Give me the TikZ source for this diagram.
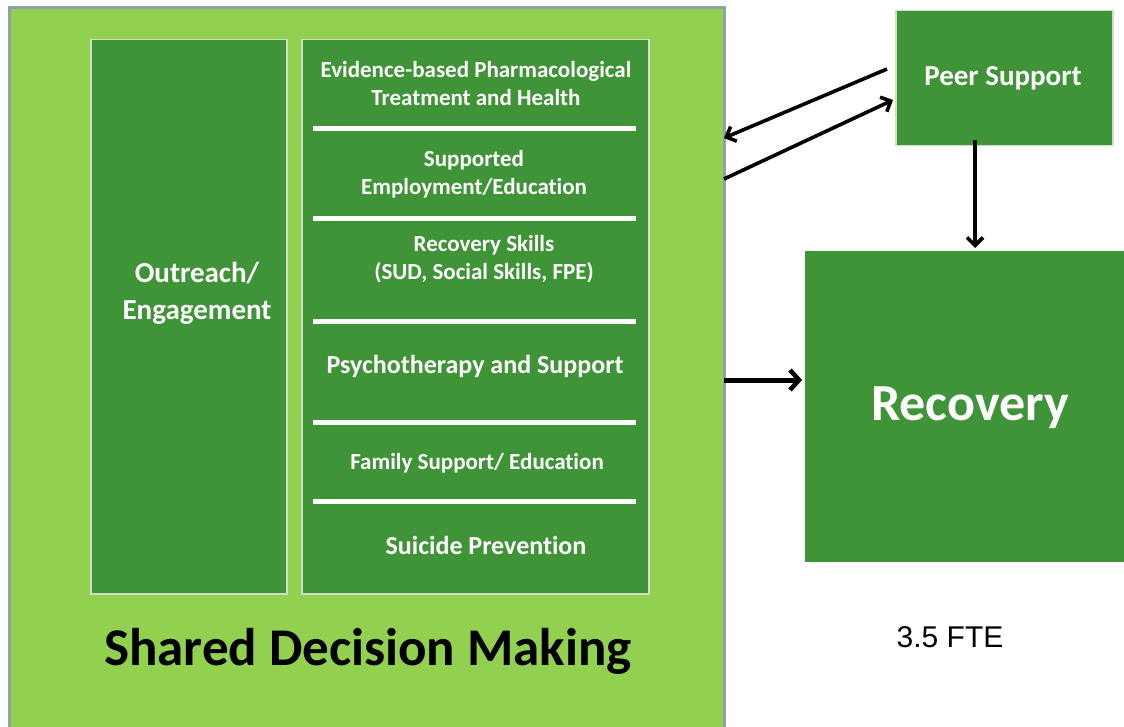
\documentclass[tikz,border=0pt]{standalone}
\usepackage{fontspec}
\setmainfont{Carlito}[Ligatures=NoCommon]
\newfontfamily\arialfont{Liberation Sans}
\usetikzlibrary{arrows.meta}
\definecolor{lightg}{HTML}{92D050}
\definecolor{darkg}{HTML}{3F9437}
\definecolor{bigborder}{HTML}{8CA3AC}
\definecolor{innerborder}{HTML}{D2DEC4}
\tikzset{
  bigbox/.style={draw=bigborder, line width=3pt, fill=lightg},
  greenbox/.style={draw=innerborder, line width=1.5pt, fill=darkg},
  plainbox/.style={fill=darkg, draw=none},
  wtext/.style={text=white, font=\bfseries\fontsize{23}{28}\selectfont, align=center, inner sep=0pt},
  wtextbig/.style={text=white, font=\bfseries\fontsize{26}{30}\selectfont, align=center, inner sep=0pt},
  sep/.style={draw=white, line width=5pt},
  arr/.style={draw=black, line width=3.6pt, -{Straight Barb[length=8pt,width=16pt,line width=3.6pt]}},
}
\begin{document}
\begin{tikzpicture}[x=1pt,y=-1pt]
\useasboundingbox (0,0) rectangle (1124,727);
\fill[white] (0,0) rectangle (1124,727);
% big box
\draw[bigbox] (9,8) rectangle (724,740);
\node[inner sep=0pt, minimum width=715pt, minimum height=732pt, anchor=north west] (big) at (9,8) {};
% outreach column
\node[greenbox, anchor=north west, minimum width=196pt, minimum height=554pt, inner sep=0pt] (outreach) at (90,39) {};
\node[text=white, font=\bfseries\fontsize{29}{37}\selectfont, align=center, inner sep=0pt] (outreachtxt) at (197,293) {Outreach/\\Engagement};
% services column
\node[greenbox, anchor=north west, minimum width=347pt, minimum height=554pt, inner sep=0pt] (services) at (301,39) {};
\draw[sep] (313,129) -- (636,129);
\draw[sep] (313,219) -- (636,219);
\draw[sep] (313,321) -- (636,321);
\draw[sep] (313,422) -- (636,422);
\draw[sep] (313,501) -- (636,501);
\node[wtext] (ebp) at (476,84) {Evidence-based Pharmacological\\Treatment and Health};
\node[wtext] (emp) at (474,174) {Supported\\Employment/Education};
\node[wtext] (rs) at (484,259) {Recovery Skills\\(SUD, Social Skills, FPE)};
\node[wtextbig] (psy) at (475,366) {Psychotherapy and Support};
\node[wtext] (fam) at (477,463) {Family Support/ Education};
\node[wtextbig] (sui) at (486,545) {Suicide Prevention};
\node[text=black, font=\bfseries\fontsize{53}{60}\selectfont, inner sep=0pt] (sdm) at (368,651) {Shared Decision Making};
% peer support
\node[greenbox, anchor=north west, minimum width=217pt, minimum height=135pt, inner sep=0pt] (peer) at (895,10) {};
\node[text=white, font=\bfseries\fontsize{29}{34}\selectfont, inner sep=0pt] (peertxt) at (1003,78) {Peer Support};
% recovery
\node[plainbox, anchor=north west, minimum width=322pt, minimum height=311pt, inner sep=0pt] (rec) at (805,251) {};
\node[text=white, font=\bfseries\fontsize{52}{60}\selectfont, inner sep=0pt] (rectxt) at (970,408) {Recovery};
\node[font=\arialfont\fontsize{30}{34}\selectfont, inner sep=0pt] (fte) at (950,637) {3.5 FTE};
% arrows
\coordinate (p1) at (887,69);
\coordinate (b1) at (724,138);
\coordinate (b2) at (724,179);
\coordinate (p2) at (893,100);
\coordinate (pd) at (975,140);
\coordinate (rt) at (975,248);
\coordinate (b3) at (724,380);
\coordinate (rl) at (802,380);
\draw[arr] (p1) -- (b1);
\draw[arr] (b2) -- (p2);
\draw[arr] (pd) -- (rt);
\draw[arr, line width=5pt, -{Straight Barb[length=9pt,width=20pt,line width=4.5pt]}] (b3) -- (rl);
\end{tikzpicture}
\end{document}
